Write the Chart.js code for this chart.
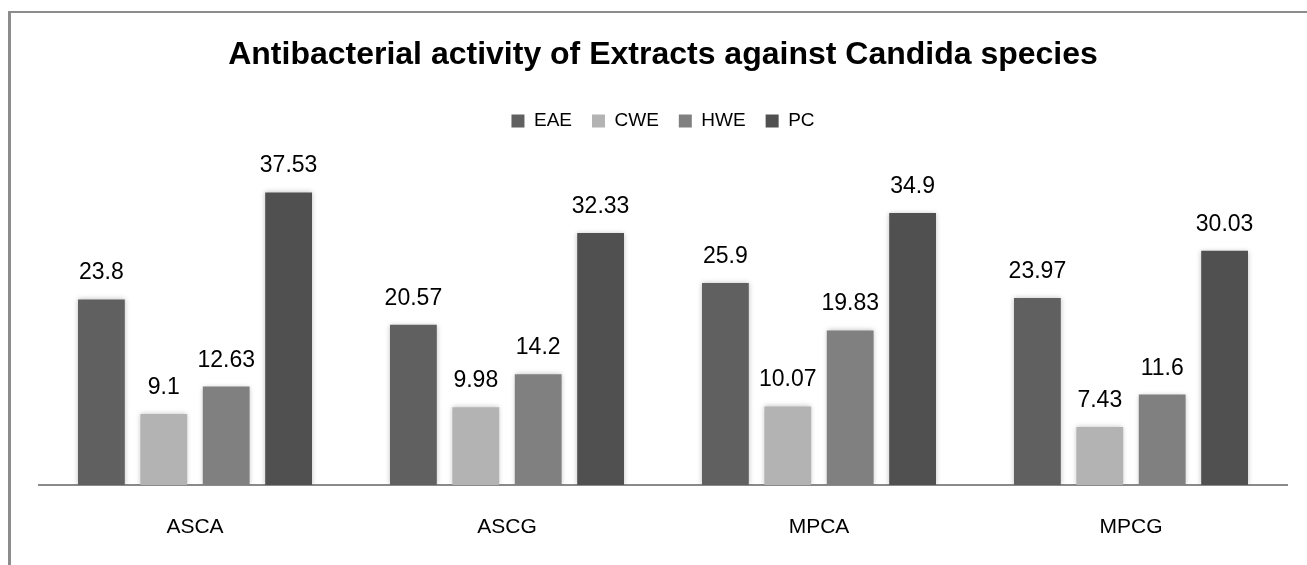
<!DOCTYPE html>
<html>
<head>
<meta charset="utf-8">
<script src="https://cdn.jsdelivr.net/npm/chart.js@4.4.1/dist/chart.umd.min.js"></script>
<style>
  html, body { margin: 0; padding: 0; background: #fff; overflow: hidden; }
  #wrap { position: relative; width: 1307px; height: 565px; }
  #frame { position: absolute; left: 8px; top: 11px; width: 1400px; height: 700px;
           border-left: 3px solid #8c8c8c; border-top: 2px solid #8c8c8c; }
  #chart { position: absolute; left: 0; top: 0; }
</style>
</head>
<body>
<div id="wrap">
  <div id="frame"></div>
  <canvas id="chart" width="1307" height="565"></canvas>
</div>
<script>
(function () {
  'use strict';

  var CATEGORIES = ['ASCA', 'ASCG', 'MPCA', 'MPCG'];
  var SERIES_NAMES = ['EAE', 'CWE', 'HWE', 'PC'];
  var EAE = [23.8, 20.57, 25.9, 23.97];
  var CWE = [9.1, 9.98, 10.07, 7.43];
  var HWE = [12.63, 14.2, 19.83, 11.6];
  var PC = [37.53, 32.33, 34.9, 30.03];
  var COLORS = ['#606060', '#b3b3b3', '#808080', '#505050'];
  var FONT = "'Liberation Sans', Arial, sans-serif";

  // soft glow round the bars, like the office chart
  var shadowPlugin = {
    id: 'barShadow',
    beforeDatasetsDraw: function (chart) {
      var ctx = chart.ctx;
      ctx.save();
      ctx.shadowColor = 'rgba(0,0,0,0.25)';
      ctx.shadowBlur = 5;
    },
    afterDatasetsDraw: function (chart) {
      chart.ctx.restore();
    }
  };

  var valueLabels = {
    id: 'valueLabels',
    afterDraw: function (chart) {
      var ctx = chart.ctx;
      ctx.save();
      ctx.font = '23px ' + FONT;
      ctx.fillStyle = '#000';
      ctx.textAlign = 'center';
      ctx.textBaseline = 'alphabetic';
      chart.data.datasets.forEach(function (ds, i) {
        chart.getDatasetMeta(i).data.forEach(function (bar, j) {
          ctx.fillText(String(ds.data[j]), bar.x, bar.y - 20);
        });
      });
      ctx.restore();
    }
  };

  var seriesData = [EAE, CWE, HWE, PC];
  var datasets = SERIES_NAMES.map(function (name, i) {
    return {
      label: name,
      data: seriesData[i],
      backgroundColor: COLORS[i],
      borderWidth: 0,
      barPercentage: 0.75,
      categoryPercentage: 0.8
    };
  });

  new Chart(document.getElementById('chart'), {
    type: 'bar',
    data: { labels: CATEGORIES, datasets: datasets },
    options: {
      responsive: false,
      animation: false,
      layout: { padding: { top: 0, bottom: 0, left: 39, right: 20 } },
      plugins: {
        title: {
          display: true,
          text: 'Antibacterial activity of Extracts against Candida species',
          color: '#000',
          font: { size: 32, weight: 'bold', family: FONT },
          padding: { top: 36, bottom: 17 }
        },
        legend: {
          display: true,
          labels: {
            color: '#000',
            font: { size: 19, family: FONT },
            boxWidth: 13,
            boxHeight: 13,
            padding: 20
          }
        },
        tooltip: { enabled: false }
      },
      scales: {
        x: {
          grid: { display: false, drawTicks: false },
          border: { display: true, color: '#8a8a8a', width: 2 },
          ticks: { color: '#000', font: { size: 21, family: FONT }, padding: 30 },
          afterFit: function (scale) { scale.height = 80; }
        },
        y: {
          display: false,
          min: 0,
          max: 44.2
        }
      }
    },
    plugins: [shadowPlugin, valueLabels]
  });
})();
</script>
</body>
</html>
